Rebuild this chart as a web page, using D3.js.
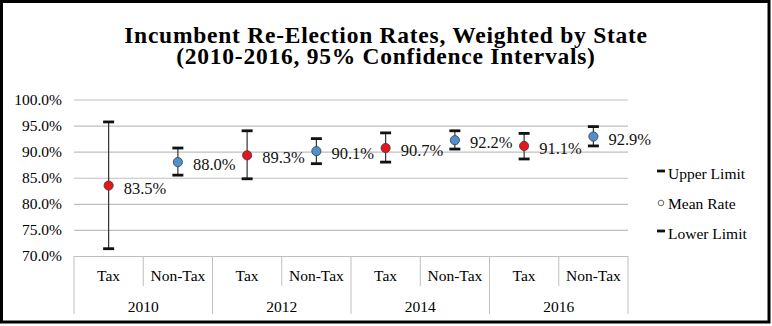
<!DOCTYPE html>
<html>
<head>
<meta charset="utf-8">
<script src="https://cdn.jsdelivr.net/npm/d3@7"></script>
<style>
  body { margin: 0; background: #fff; }
  svg { display: block; }
  svg text { font-family: "Liberation Serif", "Times New Roman", serif; }
</style>
</head>
<body>
<div id="container"></div>
<script>
const width = 772;
const height = 326;
const margin = { top: 99.5, bottom: 70, left: 74, right: 144 };

const years = ["2010", "2012", "2014", "2016"];
const groups = ["Tax", "Non-Tax"];
const meanRate = [83.5, 88.0, 89.3, 90.1, 90.7, 92.2, 91.1, 92.9];
const upperLimit = [95.7, 90.7, 94.0, 92.5, 93.6, 94.0, 93.5, 94.8];
const lowerLimit = [71.4, 85.5, 84.8, 87.7, 88.0, 90.5, 88.6, 91.1];
const yTicks = [70, 75, 80, 85, 90, 95, 100];
const legendLabels = ["Upper Limit", "Mean Rate", "Lower Limit"];

const points = [];
years.forEach((yr, i) => {
  groups.forEach((g, j) => {
    const k = i * 2 + j;
    points.push({ key: yr + "-" + g, year: yr, group: g, mean: meanRate[k], hi: upperLimit[k], lo: lowerLimit[k] });
  });
});

const plotBottom = height - margin.bottom; // 256
const xScale = d3.scaleBand()
  .domain(points.map(d => d.key))
  .range([margin.left, width - margin.right]);

const yearScale = d3.scaleBand()
  .domain(years)
  .range([margin.left, width - margin.right]);

const yScale = d3.scaleLinear()
  .domain([70, 100])
  .range([plotBottom, margin.top]);

const svg = d3.select("#container")
  .append("svg")
  .attr("width", width)
  .attr("height", height);

// outer frame
svg.append("rect")
  .attr("x", 1.5).attr("y", 1.5)
  .attr("width", width - 4.5).attr("height", height - 5.5)
  .attr("fill", "none")
  .attr("stroke", "#000")
  .attr("stroke-width", 3);

// title
const title = svg.append("text")
  .attr("text-anchor", "middle")
  .attr("font-weight", "bold")
  .attr("font-size", 23.5)
  .attr("letter-spacing", 0.75)
  .attr("fill", "#000");
title.append("tspan").attr("x", 386).attr("y", 42.5).text("Incumbent Re-Election Rates, Weighted by State");
title.append("tspan").attr("x", 386).attr("y", 63.5).text("(2010-2016, 95% Confidence Intervals)");

// gridlines + y labels
const yAxis = d3.axisLeft(yScale)
  .tickValues(yTicks)
  .tickSize(-(width - margin.left - margin.right))
  .tickPadding(12)
  .tickFormat(d => d.toFixed(1) + "%");

svg.append("g")
  .attr("transform", `translate(${margin.left},0)`)
  .call(yAxis)
  .attr("font-family", null)
  .call(g => g.select(".domain").remove())
  .call(g => g.selectAll(".tick line").attr("stroke", "#bfbfbf").attr("stroke-width", 1.2))
  .call(g => g.selectAll(".tick text").attr("font-size", 15.5).attr("fill", "#000"));

// category axis
const cat = svg.append("g").attr("stroke", "#bfbfbf").attr("stroke-width", 1);
const bw = xScale.bandwidth();
points.forEach((d, i) => {
  const x0 = xScale(d.key);
  const isYearEdge = i % 2 === 0;
  cat.append("line")
    .attr("x1", x0).attr("x2", x0)
    .attr("y1", plotBottom).attr("y2", isYearEdge ? 314 : 286);
});
cat.append("line")
  .attr("x1", width - margin.right).attr("x2", width - margin.right)
  .attr("y1", plotBottom).attr("y2", 314);

svg.append("g").selectAll("text")
  .data(points)
  .join("text")
  .attr("x", d => xScale(d.key) + bw / 2)
  .attr("y", 281)
  .attr("text-anchor", "middle")
  .attr("font-size", 15.5)
  .text(d => d.group);

svg.append("g").selectAll("text")
  .data(years)
  .join("text")
  .attr("x", d => yearScale(d) + yearScale.bandwidth() / 2)
  .attr("y", 312)
  .attr("text-anchor", "middle")
  .attr("font-size", 15.5)
  .text(d => d);

// error bars
const bars = svg.append("g");
const cx = d => xScale(d.key) + bw / 2;
bars.selectAll("line.stem")
  .data(points)
  .join("line")
  .attr("class", "stem")
  .attr("x1", cx).attr("x2", cx)
  .attr("y1", d => yScale(d.hi)).attr("y2", d => yScale(d.lo))
  .attr("stroke", "#333")
  .attr("stroke-width", 1.2);

["hi", "lo"].forEach(k => {
  bars.selectAll("line.cap-" + k)
    .data(points)
    .join("line")
    .attr("class", "cap-" + k)
    .attr("x1", d => cx(d) - 5.5).attr("x2", d => cx(d) + 5.5)
    .attr("y1", d => yScale(d[k])).attr("y2", d => yScale(d[k]))
    .attr("stroke", "#111")
    .attr("stroke-width", 2.8);
});

// mean points
svg.append("g").selectAll("circle")
  .data(points)
  .join("circle")
  .attr("cx", cx)
  .attr("cy", d => yScale(d.mean))
  .attr("r", 4.6)
  .attr("fill", d => d.group === "Tax" ? "#e8141b" : "#4f91cf")
  .attr("stroke", "#3a3a3a")
  .attr("stroke-width", 0.8);

// value labels
svg.append("g").selectAll("text")
  .data(points)
  .join("text")
  .attr("x", d => cx(d) + 15)
  .attr("y", d => yScale(d.mean) + 8)
  .attr("font-size", 16.5)
  .attr("fill", "#111")
  .text(d => d.mean.toFixed(1) + "%");

// legend
const legend = svg.append("g").attr("transform", "translate(657,0)");
const legendY = [174, 204, 234];
legendLabels.forEach((lab, i) => {
  const g = legend.append("g").attr("transform", `translate(0,${legendY[i]})`);
  if (i === 1) {
    g.append("circle").attr("cx", 4).attr("cy", -1).attr("r", 2.8)
      .attr("fill", "#fff").attr("stroke", "#555").attr("stroke-width", 0.9);
  } else {
    g.append("line").attr("x1", 0).attr("x2", 8).attr("y1", -3).attr("y2", -3)
      .attr("stroke", "#111").attr("stroke-width", 2.8);
  }
  g.append("text").attr("x", 11).attr("y", 5)
    .attr("font-size", 15.5).text(lab);
});
</script>
</body>
</html>
